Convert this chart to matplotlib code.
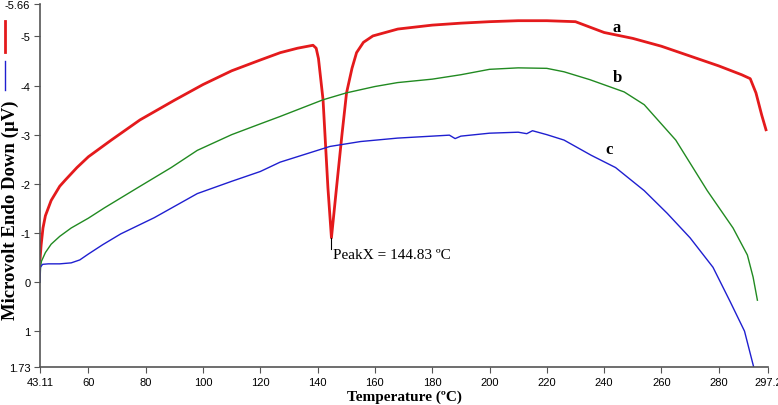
import matplotlib.pyplot as plt
from matplotlib.lines import Line2D

# Curva a (vermelha)
temp_a = [43.11, 43.5, 44.15, 45, 47, 50, 52, 56, 60, 68, 78, 90, 100, 110, 120, 127,
          133, 138.4, 139.5, 140.3, 141.9, 143.6, 144.83, 146.6, 148.5, 150.1, 152,
          153.6, 156, 159.3, 168, 180, 190, 200, 210, 220, 230, 240, 250, 260, 270,
          280, 288, 291, 293, 295, 296.5]
uv_a = [-0.45, -0.75, -1.1, -1.35, -1.66, -1.95, -2.08, -2.33, -2.55, -2.89, -3.3,
        -3.7, -4.02, -4.3, -4.52, -4.67, -4.76, -4.82, -4.76, -4.55, -3.71, -1.92,
        -0.9, -1.92, -3.0, -3.85, -4.35, -4.67, -4.88, -5.01, -5.15, -5.23, -5.27,
        -5.3, -5.32, -5.32, -5.3, -5.08, -4.96, -4.8, -4.6, -4.4, -4.22, -4.14,
        -3.85, -3.4, -3.1]

# Curva b (verde)
temp_b = [43.11, 43.3, 43.6, 45, 47, 50, 54, 60, 65.6, 77.2, 88.9, 98, 110, 120,
          126.9, 141.9, 150, 160, 167.9, 180, 190, 200, 210, 220, 226, 235, 247, 254,
          265, 276, 285, 290, 292, 293.5]
uv_b = [0.0, -0.3, -0.42, -0.6, -0.77, -0.93, -1.1, -1.3, -1.51, -1.92, -2.33, -2.68,
        -3.0, -3.22, -3.37, -3.71, -3.85, -3.98, -4.06, -4.13, -4.22, -4.33, -4.36,
        -4.35, -4.28, -4.12, -3.87, -3.61, -2.89, -1.86, -1.1, -0.55, -0.1, 0.37]

# Curva c (azul)
temp_c = [43.11, 43.25, 44, 46, 50, 54, 57, 60, 65, 71.3, 83, 98, 110, 120, 126.9,
          144.3, 155, 167.9, 180, 186, 188, 190, 200, 210, 213, 215, 220, 226, 235.5,
          244, 254, 262, 270, 278, 284, 289, 292.2]
uv_c = [0.0, -0.3, -0.36, -0.37, -0.37, -0.39, -0.45, -0.57, -0.76, -0.98, -1.31,
        -1.8, -2.05, -2.25, -2.44, -2.76, -2.86, -2.93, -2.97, -2.99, -2.92, -2.97,
        -3.03, -3.05, -3.02, -3.08, -3.0, -2.89, -2.58, -2.33, -1.86, -1.4, -0.9,
        -0.3, 0.4, 1.0, 1.73]

xticks = [43.11, 60, 80, 100, 120, 140, 160, 180, 200, 220, 240, 260, 280, 297.2]
xtick_labels = ['43.11', '60', '80', '100', '120', '140', '160', '180', '200',
                '220', '240', '260', '280', '297.2']
yticks = [-5.66, -5, -4, -3, -2, -1, 0, 1, 1.73]
ytick_labels = ['-5.66', '-5', '-4', '-3', '-2', '-1', '0', '1', '1.73']

fig = plt.figure(figsize=(7.78, 4.06), dpi=100)
ax = fig.add_axes([40 / 778, 38 / 406, 728 / 778, 363 / 406])

ax.plot(temp_a, uv_a, color='#e41a1c', lw=2.0)
ax.plot(temp_b, uv_b, color='#218a21', lw=1.0)
ax.plot(temp_c, uv_c, color='#1f1fd0', lw=1.0)

ax.set_xlim(43.11, 297.2)
ax.set_ylim(1.73, -5.66)  # eixo invertido (endo para baixo)

ax.set_xticks(xticks)
ax.set_xticklabels(xtick_labels, fontsize=8, family='Liberation Sans')
ax.set_yticks(yticks)
ax.set_yticklabels(ytick_labels, fontsize=8, family='Liberation Sans')

for lado in ['top', 'right']:
    ax.spines[lado].set_visible(False)
for lado in ['left', 'bottom']:
    ax.spines[lado].set_color('#555555')
    ax.spines[lado].set_linewidth(1.2)
ax.tick_params(direction='out', length=4, color='#555555', pad=3)

ax.set_xlabel('Temperature (ºC)', fontsize=11, fontweight='bold',
              family='Liberation Serif', labelpad=2)
fig.text(10 / 778, 1 - 210 / 406, 'Microvolt Endo Down (µV)', fontsize=13.5,
         fontweight='bold', family='Liberation Serif', rotation=90,
         ha='center', va='center')

# rótulos das curvas
ax.text(244.5, -5.19, 'a', fontsize=12, fontweight='bold', family='Liberation Serif',
        ha='center', va='center')
ax.text(244.8, -4.18, 'b', fontsize=12, fontweight='bold', family='Liberation Serif',
        ha='center', va='center')
ax.text(241.7, -2.70, 'c', fontsize=12, fontweight='bold', family='Liberation Serif',
        ha='center', va='center')

# marcação do pico
ax.plot([144.83, 144.83], [-0.9, -0.68], color='black', lw=0.8)
ax.text(145.2, -0.57, 'PeakX = 144.83 ºC', fontsize=11, family='Liberation Serif',
        va='center')

# restos da legenda cortada à esquerda
fig.add_artist(Line2D([5 / 778, 5 / 778], [1 - 22 / 406, 1 - 53 / 406],
                      color='#e41a1c', lw=2.0))
fig.add_artist(Line2D([5 / 778, 5 / 778], [1 - 62 / 406, 1 - 91 / 406],
                      color='#1f1fd0', lw=1.0))

fig.savefig('out.png', dpi=100)
